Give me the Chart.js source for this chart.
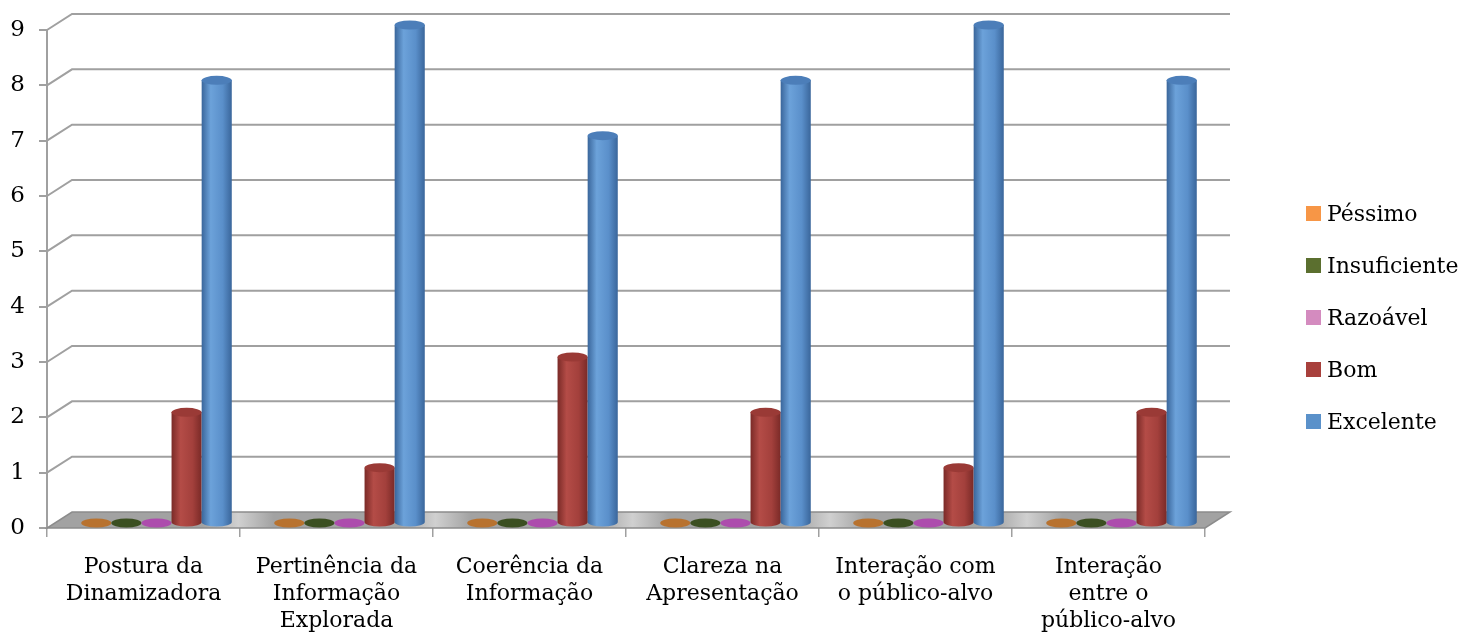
<!DOCTYPE html>
<html>
<head>
<meta charset="utf-8">
<script src="https://cdn.jsdelivr.net/npm/chart.js@4.4.1/dist/chart.umd.min.js"></script>
<style>
  body { margin: 0; background: #fff; }
  #wrap { position: relative; width: 1474px; height: 641px; }
  #legend { position: absolute; left: 1306px; top: 187px; font-family: "DejaVu Serif", serif; font-size: 22px; color: #000; }
  #legend .item { height: 52.2px; display: flex; align-items: center; }
  #legend .box { width: 15px; height: 15px; margin-right: 6px; }
</style>
</head>
<body>
<div id="wrap">
  <canvas id="chart"></canvas>
  <div id="legend"></div>
</div>
<script>
// dados
const categorias = [
  ['Postura da', 'Dinamizadora'],
  ['Pertinência da', 'Informação', 'Explorada'],
  ['Coerência da', 'Informação'],
  ['Clareza na', 'Apresentação'],
  ['Interação com', 'o público-alvo'],
  ['Interação', 'entre o', 'público-alvo']
];
const series = ['Péssimo', 'Insuficiente', 'Razoável', 'Bom', 'Excelente'];
const pessimo      = [0, 0, 0, 0, 0, 0];
const insuficiente = [0, 0, 0, 0, 0, 0];
const razoavel     = [0, 0, 0, 0, 0, 0];
const bom          = [2, 1, 3, 2, 1, 2];
const excelente    = [8, 9, 7, 8, 9, 8];
const yTicks = [0, 1, 2, 3, 4, 5, 6, 7, 8, 9];

const valores = [pessimo, insuficiente, razoavel, bom, excelente];
const coresLegenda = ['#F79646', '#5B6F2F', '#D48BBF', '#A8403C', '#5A91CA'];
// tons para o "cilindro"
const paletas = [
  { dark: '#a4611f', light: '#e08c43', mid: '#c97a35', cap: '#b8722f' },
  { dark: '#2d3d18', light: '#55702f', mid: '#45592a', cap: '#3b4f21' },
  { dark: '#8a3a8a', light: '#c265c2', mid: '#b052b0', cap: '#ad4cad' },
  { dark: '#7a2a27', light: '#b44c47', mid: '#a3403c', cap: '#9a3a36' },
  { dark: '#3a669b', light: '#6ca2da', mid: '#5a8fca', cap: '#4c7eb9' }
];

const DX = 25, DY = -16;        // profundidade da caixa 3D
const SX = 13, SY = -5;         // deslocamento das barras
const GRID = '#a0a0a0';

function cilindro(ctx, cx, top, base, w, p) {
  const l = cx - w / 2, r = cx + w / 2, ry = 4.5;
  if (base - top > 0.5) {
    const g = ctx.createLinearGradient(l, 0, r, 0);
    g.addColorStop(0, p.dark);
    g.addColorStop(0.3, p.light);
    g.addColorStop(0.7, p.mid);
    g.addColorStop(1, p.dark);
    ctx.fillStyle = g;
    ctx.beginPath();
    ctx.moveTo(l, top);
    ctx.lineTo(l, base);
    ctx.ellipse(cx, base, w / 2, ry, 0, Math.PI, 0, true);
    ctx.lineTo(r, top);
    ctx.closePath();
    ctx.fill();
  }
  ctx.fillStyle = p.cap;
  ctx.beginPath();
  ctx.ellipse(cx, top, w / 2, ry, 0, 0, Math.PI * 2);
  ctx.fill();
}

const fake3d = {
  id: 'fake3d',
  beforeDatasetsDraw(chart) {
    const { ctx, chartArea: a, scales: { x, y } } = chart;
    ctx.save();
    // parede de fundo
    ctx.strokeStyle = GRID;
    ctx.lineWidth = 2;
    y.ticks.forEach(t => {
      if (t.value === 0) return;
      const py = y.getPixelForValue(t.value);
      ctx.beginPath();
      ctx.moveTo(a.left, py);
      ctx.lineTo(a.left + DX, py + DY);
      ctx.lineTo(a.right + DX, py + DY);
      ctx.stroke();
    });
    // chão
    const y0 = y.getPixelForValue(0);
    const g = ctx.createLinearGradient(a.left, 0, a.right + DX, 0);
    const n = categorias.length;
    g.addColorStop(0, '#a2a2a2');
    for (let i = 1; i < n; i++) {
      const f = i / n;
      g.addColorStop(f - 0.035, '#a2a2a2');
      g.addColorStop(f - 0.005, '#d0d0d0');
      g.addColorStop(f + 0.025, '#a2a2a2');
    }
    g.addColorStop(1, '#a2a2a2');
    ctx.fillStyle = g;
    ctx.beginPath();
    ctx.moveTo(a.left, y0);
    ctx.lineTo(a.right, y0);
    ctx.lineTo(a.right + DX, y0 + DY);
    ctx.lineTo(a.left + DX, y0 + DY);
    ctx.closePath();
    ctx.fill();
    ctx.strokeStyle = '#8c8c8c';
    ctx.lineWidth = 1.5;
    ctx.stroke();
    // barras
    chart.data.datasets.forEach((ds, i) => {
      chart.getDatasetMeta(i).data.forEach(bar => {
        cilindro(ctx, bar.x + SX, bar.y + SY, bar.base + SY, bar.width, paletas[i]);
      });
    });
    ctx.restore();
    return false;
  }
};

const fonte = { family: '"DejaVu Serif", serif', size: 22, lineHeight: 1.23 };

new Chart(document.getElementById('chart'), {
  type: 'bar',
  data: {
    labels: categorias,
    datasets: series.map((s, i) => ({
      label: s,
      data: valores[i],
      backgroundColor: coresLegenda[i],
      categoryPercentage: 0.78,
      barPercentage: 1.0
    }))
  },
  options: {
    responsive: true,
    maintainAspectRatio: false,
    animation: false,
    layout: { padding: { top: 30, right: 269, left: 0, bottom: 0 } },
    plugins: { legend: { display: false }, tooltip: { enabled: false } },
    scales: {
      x: {
        afterFit: s => { s.height = 113; },
        grid: { offset: true, drawOnChartArea: false, color: GRID, lineWidth: 1.5, tickLength: 9 },
        border: { display: false },
        ticks: { color: '#000', font: fonte, padding: 17, maxRotation: 0, autoSkip: false }
      },
      y: {
        min: 0, max: 9,
        afterFit: s => { s.width = 47; },
        afterBuildTicks: s => { s.ticks = yTicks.map(v => ({ value: v })); },
        grid: { drawOnChartArea: false, color: GRID, lineWidth: 2, tickLength: 8 },
        border: { color: GRID, width: 2 },
        ticks: { color: '#000', font: { family: '"DejaVu Serif", serif', size: 23 }, padding: 14 }
      }
    }
  },
  plugins: [fake3d]
});

// legenda
const leg = document.getElementById('legend');
series.forEach((s, i) => {
  const it = document.createElement('div');
  it.className = 'item';
  it.innerHTML = '<span class="box" style="background:' + coresLegenda[i] + '"></span><span>' + s + '</span>';
  leg.appendChild(it);
});
</script>
</body>
</html>
